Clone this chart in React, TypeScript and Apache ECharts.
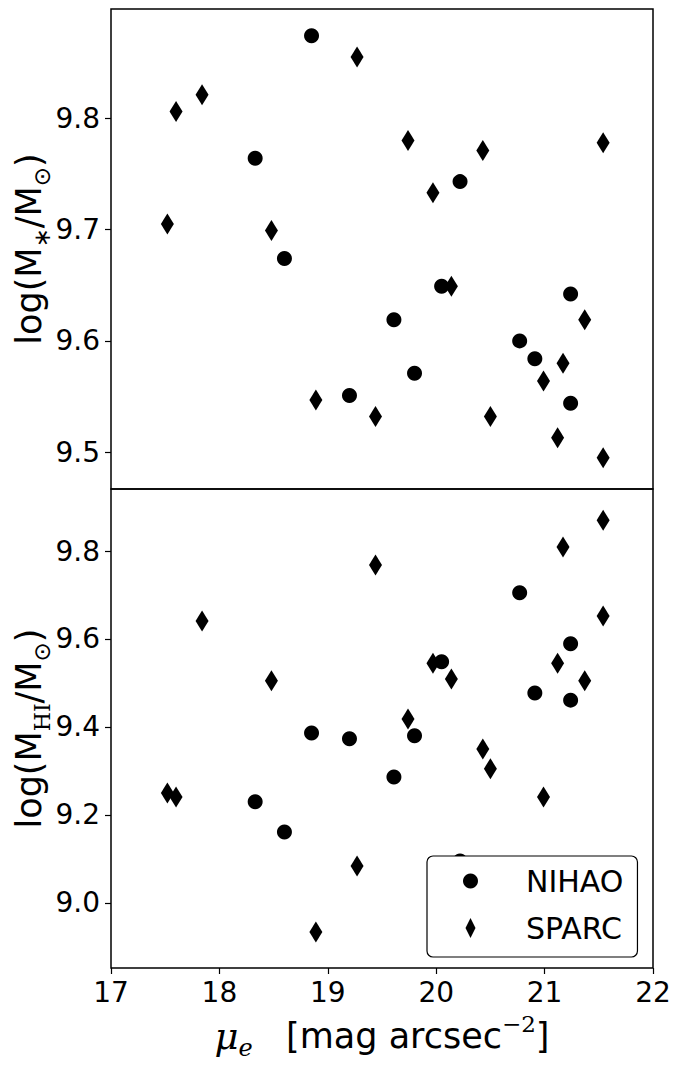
import React, { useEffect, useRef } from "react";
import * as echarts from "echarts";

// NIHAO simulations
const nihaoMu = [18.85, 18.33, 18.60, 19.20, 19.61, 19.80, 20.05, 20.22, 20.77, 20.91, 21.24, 21.24];
const nihaoStar = [9.874, 9.764, 9.674, 9.551, 9.619, 9.571, 9.649, 9.743, 9.600, 9.584, 9.544, 9.642];
const nihaoHI = [9.386, 9.230, 9.161, 9.373, 9.286, 9.380, 9.548, 9.095, 9.705, 9.477, 9.461, 9.589];

// SPARC galaxies
const sparcMu = [17.52, 17.60, 17.84, 18.48, 18.89, 19.27, 19.44, 19.74, 19.97, 20.14, 20.43, 20.50, 20.99, 21.12, 21.17, 21.37, 21.54, 21.54];
const sparcStar = [9.705, 9.806, 9.821, 9.699, 9.547, 9.855, 9.532, 9.780, 9.733, 9.649, 9.771, 9.532, 9.564, 9.513, 9.580, 9.619, 9.778, 9.495];
const sparcHI = [9.250, 9.241, 9.641, 9.505, 8.934, 9.084, 9.768, 9.418, 9.545, 9.509, 9.350, 9.305, 9.241, 9.545, 9.809, 9.505, 9.870, 9.652];

const xTicks = [17, 18, 19, 20, 21, 22];
const topTicks = [9.5, 9.6, 9.7, 9.8];
const bottomTicks = [9.0, 9.2, 9.4, 9.6, 9.8];

const FONT = "DejaVu Sans";
const SERIF = "DejaVu Serif";

const pairs = (xs: number[], ys: number[]) => xs.map((x, i) => [x, ys[i]]);

export default function App() {
  const ref = useRef<HTMLDivElement>(null);
  useEffect(() => {
    document.body.style.margin = "0";
    const chart = echarts.init(ref.current!, null, { renderer: "svg" });
    const tickLabel = { color: "#000", fontSize: 28, fontFamily: FONT };
    const yRich = (subSize: number) => ({
      m: { fontSize: 35, fontFamily: FONT, color: "#000", lineHeight: 48 },
      s: { fontSize: subSize, fontFamily: FONT, color: "#000", lineHeight: 24, verticalAlign: "bottom" },
    });
    const diamond = "path://M5,0L10,10L5,20L0,10Z";
    const mark = { color: "#000", opacity: 1 };
    chart.setOption({
      animation: false,
      backgroundColor: "#fff",
      grid: [
        { left: 111, top: 9, width: 542, height: 480, show: true, borderColor: "#000", borderWidth: 1.5, backgroundColor: "transparent", containLabel: false, outerBoundsMode: "none" },
        { left: 111, top: 489, width: 542, height: 479, show: true, borderColor: "#000", borderWidth: 1.5, backgroundColor: "transparent", containLabel: false, outerBoundsMode: "none" },
      ],
      xAxis: [
        {
          gridIndex: 0, type: "value", min: 17, max: 22,
          axisLine: { show: false }, axisTick: { show: false }, axisLabel: { show: false }, splitLine: { show: false },
        },
        {
          gridIndex: 1, type: "value", min: 17, max: 22,
          axisLine: { show: false },
          axisTick: { show: true, inside: false, length: 6, lineStyle: { color: "#000", width: 1.2 }, customValues: xTicks },
          axisLabel: { ...tickLabel, margin: 10, customValues: xTicks, formatter: (v: number) => String(v) },
          splitLine: { show: false },
          name: "{mu|μ}{e|e}{m|   [mag arcsec}{sup|−2}{m|]}",
          nameLocation: "middle",
          nameGap: 44,
          nameMoveOverlap: false,
          nameTextStyle: {
            rich: {
              mu: { fontSize: 37, fontFamily: SERIF, fontStyle: "italic", color: "#000", lineHeight: 48 },
              e: { fontSize: 24, fontFamily: SERIF, fontStyle: "italic", color: "#000", lineHeight: 24, verticalAlign: "bottom" },
              m: { fontSize: 35, fontFamily: FONT, color: "#000", lineHeight: 48 },
              sup: { fontSize: 23, fontFamily: SERIF, color: "#000", lineHeight: 24, verticalAlign: "top" },
            },
          },
        },
      ],
      yAxis: [
        {
          gridIndex: 0, type: "value", min: 9.467, max: 9.898,
          axisLine: { show: false },
          axisTick: { show: true, inside: false, length: 6, lineStyle: { color: "#000", width: 1.2 }, customValues: topTicks },
          axisLabel: { ...tickLabel, margin: 11, customValues: topTicks, formatter: (v: number) => v.toFixed(1) },
          splitLine: { show: false },
          name: "{m|log(M}{s|∗}{m|/M}{s|⊙}{m|)}",
          nameLocation: "middle",
          nameRotate: 90,
          nameGap: 58,
          nameMoveOverlap: false,
          nameTextStyle: { rich: yRich(23) },
        },
        {
          gridIndex: 1, type: "value", min: 8.852, max: 9.941,
          axisLine: { show: false },
          axisTick: { show: true, inside: false, length: 6, lineStyle: { color: "#000", width: 1.2 }, customValues: bottomTicks },
          axisLabel: { ...tickLabel, margin: 11, customValues: bottomTicks, formatter: (v: number) => v.toFixed(1) },
          splitLine: { show: false },
          name: "{m|log(M}{r|HI}{m|/M}{s|⊙}{m|)}",
          nameLocation: "middle",
          nameRotate: 90,
          nameGap: 58,
          nameMoveOverlap: false,
          nameTextStyle: {
            rich: {
              ...yRich(23),
              r: { fontSize: 22, fontFamily: SERIF, color: "#000", lineHeight: 24, verticalAlign: "bottom" },
            },
          },
        },
      ],
      legend: {
        left: 427, top: 856, orient: "vertical",
        padding: [10, 14, 14, 36],
        itemWidth: 15, itemHeight: 20, itemGap: 17,
        borderColor: "#000", borderWidth: 1.2, borderRadius: 6, backgroundColor: "#fff",
        selectedMode: false,
        textStyle: { fontSize: 30, fontFamily: FONT, color: "#000", lineHeight: 30, padding: [0, 0, 0, 43] },
        data: [{ name: "NIHAO", icon: "circle" }, { name: "SPARC", icon: diamond }],
      },
      series: [
        { name: "NIHAO", type: "scatter", xAxisIndex: 0, yAxisIndex: 0, symbol: "circle", symbolSize: 15, itemStyle: mark, data: pairs(nihaoMu, nihaoStar) },
        { name: "SPARC", type: "scatter", xAxisIndex: 0, yAxisIndex: 0, symbol: diamond, symbolSize: [13, 21], itemStyle: mark, data: pairs(sparcMu, sparcStar) },
        { name: "NIHAO", type: "scatter", xAxisIndex: 1, yAxisIndex: 1, symbol: "circle", symbolSize: 15, itemStyle: mark, data: pairs(nihaoMu, nihaoHI) },
        { name: "SPARC", type: "scatter", xAxisIndex: 1, yAxisIndex: 1, symbol: diamond, symbolSize: [13, 21], itemStyle: mark, data: pairs(sparcMu, sparcHI) },
      ],
    });
    return () => chart.dispose();
  }, []);
  return <div ref={ref} style={{ width: 680, height: 1067, position: "absolute", left: 0, top: 0 }} />;
}
